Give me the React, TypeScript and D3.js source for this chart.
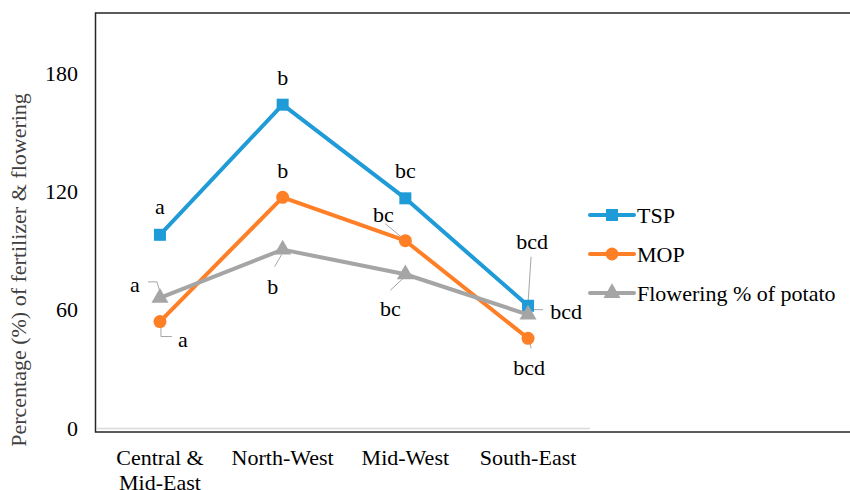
import React, { useEffect, useRef } from 'react';
import * as d3 from 'd3';

const regions = ['Central & Mid-East', 'North-West', 'Mid-West', 'South-East'];
const tspValues = [98, 164, 116.5, 62];
const mopValues = [54, 117, 95, 45.5];
const floweringValues = [66, 90.5, 78, 57.5];
const tspLetters = ['a', 'b', 'bc', 'bcd'];
const mopLetters = ['a', 'b', 'bc', 'bcd'];
const floweringLetters = ['a', 'b', 'bc', 'bcd'];
const yTicks = [0, 60, 120, 180];
const seriesNames = ['TSP', 'MOP', 'Flowering % of potato'];

// label placement relative to each point: text centre + optional leader line
const tspPlace = [
  { dx: 0, dy: -28 },
  { dx: 0, dy: -27 },
  { dx: 0, dy: -28 },
  { dx: 4, dy: -64, lead: [[3, -49], [0, -3]] },
];
const mopPlace = [
  { dx: 23, dy: 18, lead: [[1, 5], [1, 15], [12, 15]] },
  { dx: 0, dy: -27 },
  { dx: -22, dy: -26, lead: [[-20, -17], [-2, -2]] },
  { dx: 1, dy: 29, lead: [[2, 4], [3, 10]] },
];
const flowPlace = [
  { dx: -25, dy: -13, lead: [[-12, -16], [-3, -16], [0, -6]] },
  { dx: -10, dy: 37, lead: [[-8, 17], [-1, 5]] },
  { dx: -15, dy: 34, lead: [[-15, 16], [-1, 3]] },
  { dx: 38, dy: -3, lead: [[5, -5], [15, -5]] },
];

const FONT = "'Liberation Serif', 'Times New Roman', Times, serif";

const x = d3.scaleBand().domain(regions).range([98.6, 589.4]).padding(0);
const cx = (c: string) => (x(c) as number) + x.bandwidth() / 2;
const y = d3.scaleLinear().domain([0, 210]).range([428, 14]);

const series = [
  { name: seriesNames[0], values: tspValues, letters: tspLetters, place: tspPlace, color: '#1f9bd7', marker: 'square' },
  { name: seriesNames[1], values: mopValues, letters: mopLetters, place: mopPlace, color: '#ff7f27', marker: 'circle' },
  { name: seriesNames[2], values: floweringValues, letters: floweringLetters, place: flowPlace, color: '#a5a5a5', marker: 'triangle' },
];

const line = d3.line<number>()
  .x((_, i) => cx(regions[i]))
  .y((d) => y(d));

const triangle = d3.symbol().type(d3.symbolTriangle).size(125)();

const Marker = ({ kind, px, py, color }: { kind: string; px: number; py: number; color: string }) => {
  const s = 12;
  if (kind === 'square') return <rect x={px - s / 2} y={py - s / 2} width={s} height={s} fill={color} />;
  if (kind === 'circle') return <circle cx={px} cy={py} r={s / 2 + 0.5} fill={color} />;
  return <path transform={`translate(${px},${py})`} d={triangle as string} fill={color} />;
};

const serif = { fontFamily: 'Liberation Serif' };

const App = () => {
  const ref = useRef<SVGSVGElement | null>(null);
  const legendY = [215, 254, 293];

  useEffect(() => {
    // force the serif face on every label
    d3.select(ref.current).selectAll('text')
      .attr('font-family', FONT)
      .style('font-family', FONT, 'important');
  }, []);

  return (
    <svg ref={ref} width={850} height={490} fontFamily={FONT}
      style={{ position: 'absolute', left: 0, top: 0, fontFamily: 'Liberation Serif' }}>
      <style>{`text { font-family: 'Liberation Serif', 'Times New Roman', serif !important; }`}</style>
      {/* outer frame */}
      <rect x={95.5} y={13} width={800} height={419} fill="none" stroke="#262626" strokeWidth={1.5} />
      {/* category axis line */}
      <line x1={97} x2={590} y1={y(0) + 0.5} y2={y(0) + 0.5} stroke="#d9d9d9" strokeWidth={1.5} />

      {/* y tick labels */}
      {yTicks.map((t) => (
        <text key={t} x={78} y={y(t) + 7.5} fontSize={22} textAnchor="end" fill="#000" style={serif}>{t}</text>
      ))}

      {/* y title */}
      <text transform="translate(26,270) rotate(-90)" fontSize={22} textAnchor="middle" fill="#404040" style={serif}>
        {'Percentage (%) of fertilizer & flowering'}
      </text>

      {/* category labels */}
      {regions.map((r) => {
        const parts = r === 'Central & Mid-East' ? ['Central &', 'Mid-East'] : [r];
        return parts.map((p, i) => (
          <text key={p} x={cx(r)} y={465 + i * 25} fontSize={22} textAnchor="middle" fill="#000" style={serif}>{p}</text>
        ));
      })}

      {/* leader lines */}
      {series.map((s) =>
        s.values.map((v, i) => {
          const pl: any = s.place[i];
          if (!pl.lead) return null;
          const px = cx(regions[i]);
          const py = y(v);
          const d = d3.line()(pl.lead.map((p: number[]) => [px + p[0], py + p[1]] as [number, number]));
          return <path key={s.name + i} d={d as string} fill="none" stroke="#a6a6a6" strokeWidth={1} />;
        })
      )}

      {/* lines + markers */}
      {series.map((s) => (
        <g key={s.name}>
          <path d={line(s.values) as string} fill="none" stroke={s.color} strokeWidth={4} strokeLinejoin="round" />
          {s.values.map((v, i) => (
            <Marker key={i} kind={s.marker} px={cx(regions[i])} py={y(v)} color={s.color} />
          ))}
        </g>
      ))}

      {/* letter labels */}
      {series.map((s) =>
        s.values.map((v, i) => {
          const pl: any = s.place[i];
          return (
            <text key={s.name + 'l' + i} x={cx(regions[i]) + pl.dx} y={y(v) + pl.dy + 7.5} fontSize={22}
              textAnchor="middle" fill="#000" style={serif}>
              {s.letters[i]}
            </text>
          );
        })
      )}

      {/* legend */}
      {series.map((s, i) => (
        <g key={'lg' + s.name} transform={`translate(590,${legendY[i]})`}>
          <line x1={0} x2={44} y1={0} y2={0} stroke={s.color} strokeWidth={4} strokeLinecap="round" />
          <Marker kind={s.marker} px={22} py={0} color={s.color} />
          <text x={47} y={7.5} fontSize={22} fill="#000" style={serif}>{s.name}</text>
        </g>
      ))}
    </svg>
  );
};

export default App;
